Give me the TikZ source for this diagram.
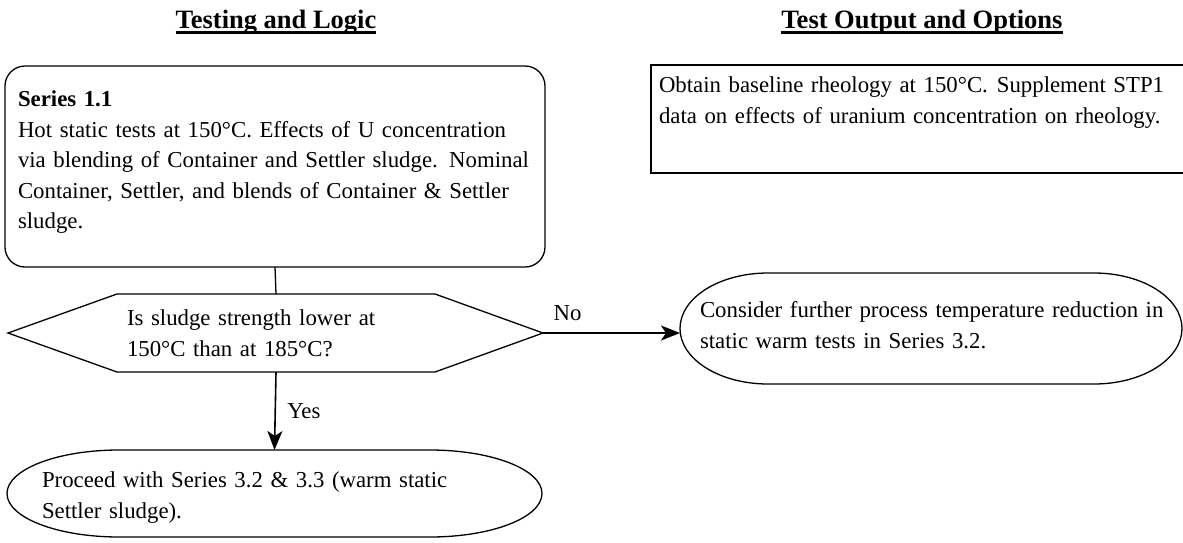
\documentclass[tikz,border=0pt]{standalone}
\usepackage{fontspec}
\setmainfont{Liberation Serif}
\usetikzlibrary{arrows.meta}
\begin{document}
\begin{tikzpicture}[x=1pt,y=1pt,
  every node/.style={inner sep=0pt, outer sep=0pt},
  body/.style={font=\fontsize{22.8}{30.5}\selectfont, align=left},
  hdr/.style={font=\fontsize{26.5}{30}\selectfont\bfseries, anchor=base},
  ln/.style={line width=1.3pt},
  arr/.style={line width=1.6pt, -{Stealth[length=19pt,width=15pt,inset=5pt]}},
  lbl/.style={font=\fontsize{22.8}{27}\selectfont}
]
\useasboundingbox (0,0) rectangle (1183,-542);
% headers
\node[hdr] (h1) at (276,-28) {Testing and Logic};
\node[hdr] (h2) at (922,-28) {Test Output and Options};
\draw[line width=2.6pt] ([yshift=-4.5pt]h1.base west) -- ([yshift=-4.5pt]h1.base east);
\draw[line width=2.6pt] ([yshift=-4.5pt]h2.base west) -- ([yshift=-4.5pt]h2.base east);
% Series 1.1 box
\node[body, draw, ln, rounded corners=20pt, minimum width=540pt, minimum height=201pt,
  inner xsep=13pt, text width=514pt] (s11) at (275,-166.5)
 {\mbox{\textbf{Series 1.1}}\\
  \mbox{Hot static tests at 150°C. Effects of U concentration}\\
  \mbox{via blending of Container and Settler sludge. Nominal}\\
  \mbox{Container, Settler, and blends of Container \& Settler}\\
  \mbox{sludge.}\\[-17pt]\mbox{}};
% output box
\node[body, draw, ln, minimum width=564pt, minimum height=108pt,
  inner xsep=8pt, text width=548pt] (out) at (933,-119)
 {\mbox{Obtain baseline rheology at 150°C.\hspace{9pt}Supplement STP1}\\
  \mbox{data on effects of uranium concentration on rheology.}\\[7.5pt]\mbox{}};
% decision
\node[body, minimum width=318pt, minimum height=78pt, inner xsep=10pt, text width=298pt] (q) at (276,-333)
 {\mbox{Is sludge strength lower at}\\ \mbox{150°C than at 185°C?}};
\draw[ln] ([xshift=-109pt]q.west) -- (q.north west) -- (q.north east)
  -- ([xshift=108pt]q.east) -- (q.south east) -- (q.south west) -- cycle;
\coordinate (qe) at ([xshift=108pt]q.east);
% terminal: proceed
\node[body, minimum width=535pt, minimum height=87pt, inner xsep=35pt, text width=465pt] (pro) at (274.5,-493.5)
 {\mbox{\rule{0pt}{24pt}Proceed with Series 3.2 \& 3.3 (warm static}\\ \mbox{Settler sludge).}};
\draw[ln] ([xshift=112pt]pro.north west) -- ([xshift=-112pt]pro.north east)
  arc[start angle=90,end angle=-90,x radius=112pt,y radius=43.5pt]
  -- ([xshift=112pt]pro.south west)
  arc[start angle=270,end angle=90,x radius=112pt,y radius=43.5pt] -- cycle;
% terminal: consider
\node[body, minimum width=502pt, minimum height=111pt, inner xsep=20pt, text width=462pt] (con) at (931,-328.5)
 {\mbox{Consider further process temperature reduction in}\\ \mbox{static warm tests in Series 3.2.}\\[-23.5pt]\mbox{}};
\draw[ln] ([xshift=88pt]con.north west) -- ([xshift=-88pt]con.north east)
  arc[start angle=90,end angle=-90,x radius=88pt,y radius=55.5pt]
  -- ([xshift=88pt]con.south west)
  arc[start angle=270,end angle=90,x radius=88pt,y radius=55.5pt] -- cycle;
% connectors
\draw[ln] (s11.south) -- (q.north);
\draw[arr] (q.south) -- node[lbl, right=12pt] {Yes} (pro.north);
\draw[arr] (qe) -- node[lbl, above=12pt, pos=0.18] {No} (qe -| con.west);
\end{tikzpicture}
\end{document}
